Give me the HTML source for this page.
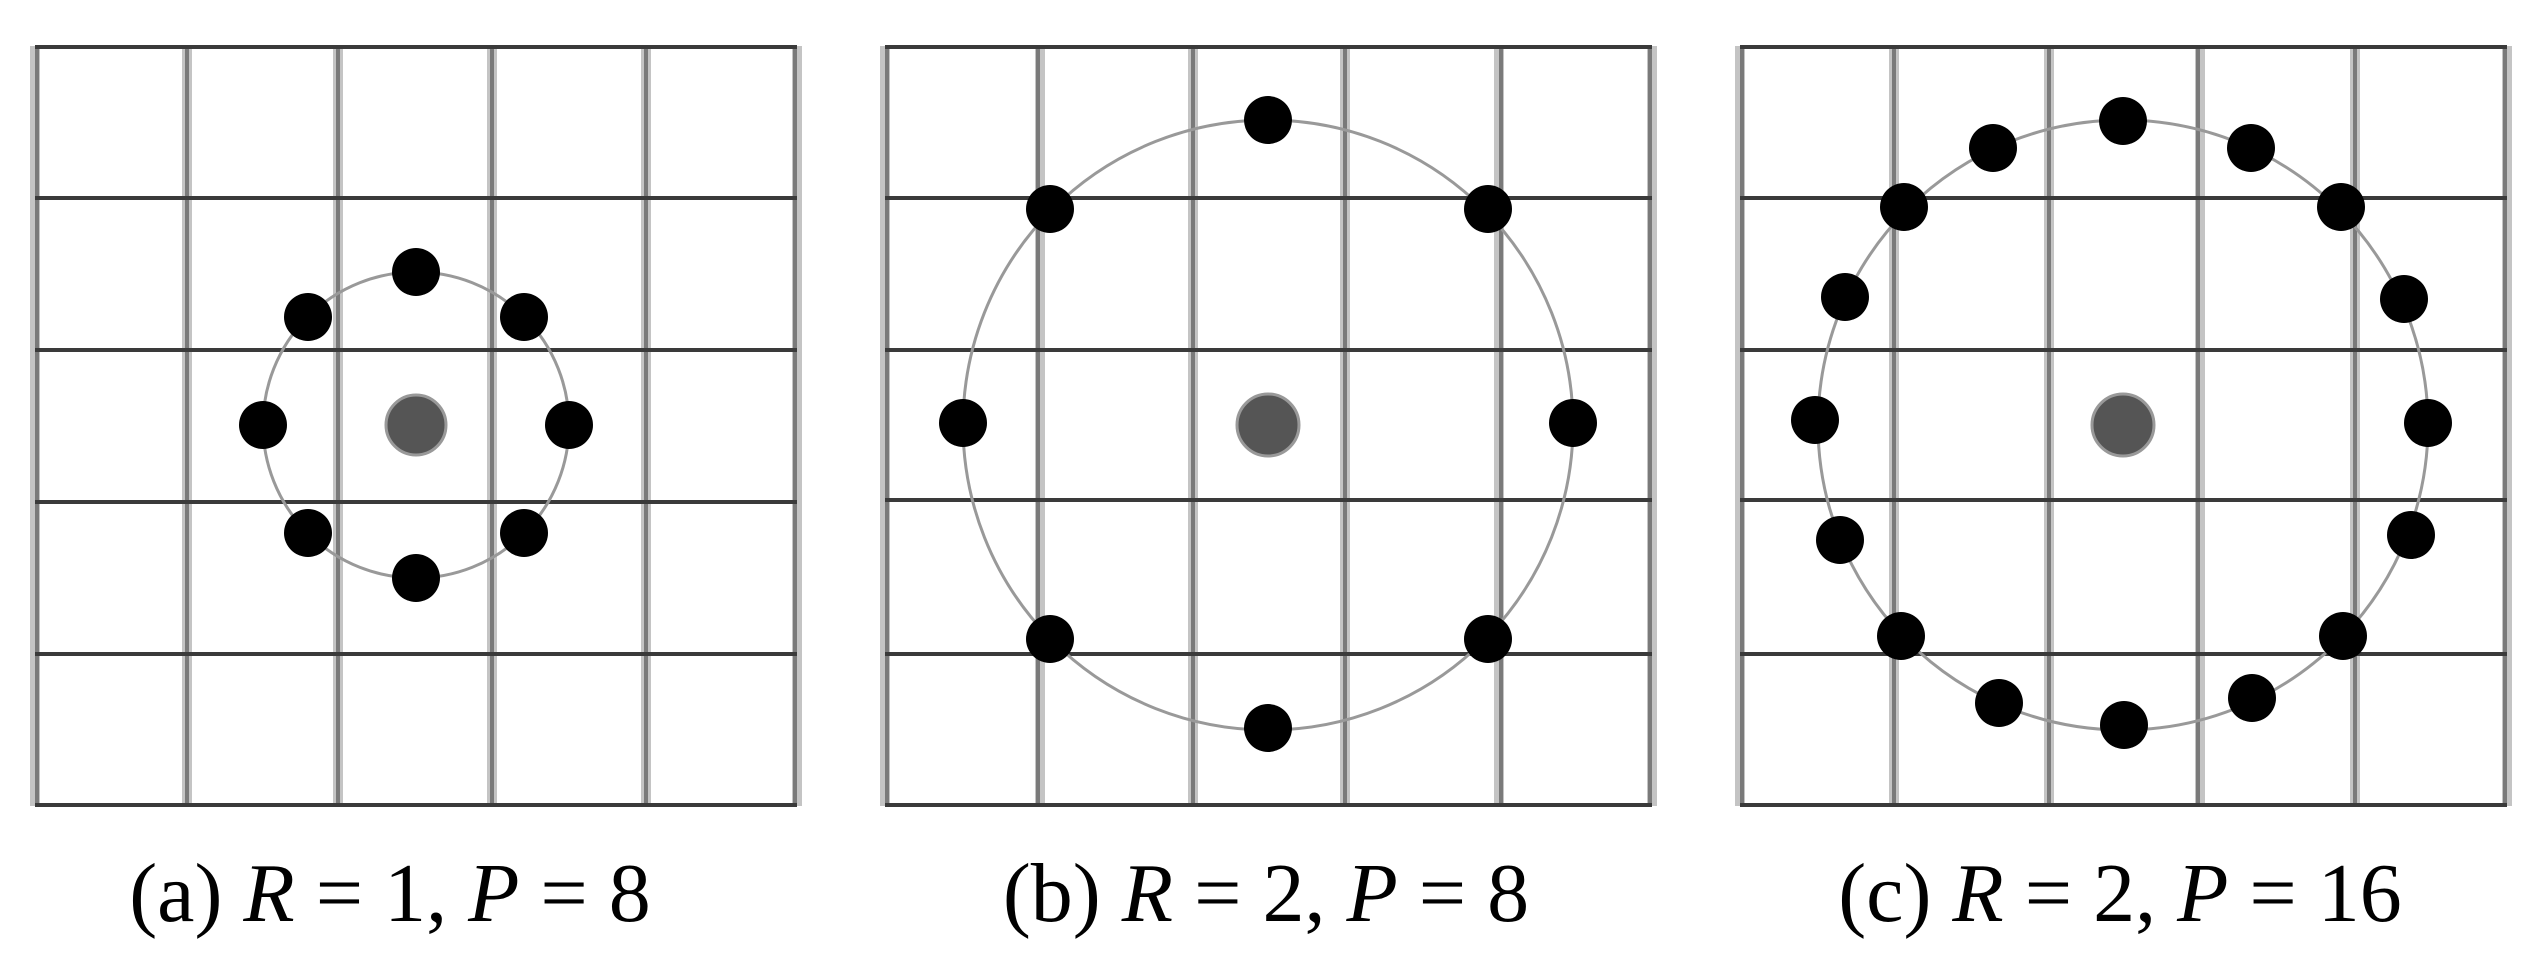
<!DOCTYPE html>
<html><head><style>
html,body{margin:0;padding:0;background:#fff;}
svg{display:block;}
text{font-family:"Liberation Serif",serif;font-size:84px;fill:#000;}
</style></head><body>
<svg width="2525" height="975" viewBox="0 0 2525 975" xmlns="http://www.w3.org/2000/svg">
<!-- Panel A -->
<g>
<g stroke="#c4c4c4" stroke-width="10">
<line x1="35" y1="46" x2="35" y2="806"/><line x1="187" y1="46" x2="187" y2="806"/><line x1="338" y1="46" x2="338" y2="806"/><line x1="492" y1="46" x2="492" y2="806"/><line x1="646" y1="46" x2="646" y2="806"/><line x1="797" y1="46" x2="797" y2="806"/>
</g>
<g stroke="#7a7a7a" stroke-width="4">
<line x1="37" y1="46" x2="37" y2="806"/><line x1="187" y1="46" x2="187" y2="806"/><line x1="338" y1="46" x2="338" y2="806"/><line x1="492" y1="46" x2="492" y2="806"/><line x1="646" y1="46" x2="646" y2="806"/><line x1="795" y1="46" x2="795" y2="806"/>
</g>
<g stroke="#3a3a3a" stroke-width="4">
<line x1="35" y1="47" x2="797" y2="47"/><line x1="35" y1="198" x2="797" y2="198"/><line x1="35" y1="350" x2="797" y2="350"/><line x1="35" y1="502" x2="797" y2="502"/><line x1="35" y1="654" x2="797" y2="654"/><line x1="35" y1="805" x2="797" y2="805"/>
</g>
<circle cx="416" cy="425" r="153" fill="none" stroke="#999" stroke-width="3"/>
<circle cx="416" cy="425" r="30" fill="#555" stroke="#999" stroke-width="3"/>
<g fill="#000">
<circle cx="569" cy="425" r="24"/><circle cx="524" cy="317" r="24"/><circle cx="416" cy="272" r="24"/><circle cx="308" cy="317" r="24"/><circle cx="263" cy="425" r="24"/><circle cx="308" cy="533" r="24"/><circle cx="416" cy="578" r="24"/><circle cx="524" cy="533" r="24"/>
</g>
<text x="390" y="921" text-anchor="middle">(a) <tspan font-style="italic">R</tspan> = 1, <tspan font-style="italic">P</tspan> = 8</text>
</g>
<!-- Panel B -->
<g>
<g stroke="#c4c4c4" stroke-width="10">
<line x1="885" y1="46" x2="885" y2="806"/><line x1="1040" y1="46" x2="1040" y2="806"/><line x1="1193" y1="46" x2="1193" y2="806"/><line x1="1345" y1="46" x2="1345" y2="806"/><line x1="1499" y1="46" x2="1499" y2="806"/><line x1="1652" y1="46" x2="1652" y2="806"/>
</g>
<g stroke="#7a7a7a" stroke-width="4">
<line x1="887" y1="46" x2="887" y2="806"/><line x1="1038" y1="46" x2="1038" y2="806"/><line x1="1193" y1="46" x2="1193" y2="806"/><line x1="1345" y1="46" x2="1345" y2="806"/><line x1="1501" y1="46" x2="1501" y2="806"/><line x1="1650" y1="46" x2="1650" y2="806"/>
</g>
<g stroke="#3a3a3a" stroke-width="4">
<line x1="885" y1="47" x2="1652" y2="47"/><line x1="885" y1="198" x2="1652" y2="198"/><line x1="885" y1="350" x2="1652" y2="350"/><line x1="885" y1="500" x2="1652" y2="500"/><line x1="885" y1="654" x2="1652" y2="654"/><line x1="885" y1="805" x2="1652" y2="805"/>
</g>
<circle cx="1268" cy="425" r="305" fill="none" stroke="#999" stroke-width="3"/>
<circle cx="1268" cy="425" r="31" fill="#555" stroke="#999" stroke-width="3"/>
<g fill="#000">
<circle cx="1573" cy="423" r="24"/><circle cx="1488" cy="209" r="24"/><circle cx="1268" cy="120" r="24"/><circle cx="1050" cy="209" r="24"/><circle cx="963" cy="423" r="24"/><circle cx="1050" cy="639" r="24"/><circle cx="1268" cy="728" r="24"/><circle cx="1488" cy="639" r="24"/>
</g>
<text x="1266" y="921" text-anchor="middle">(b) <tspan font-style="italic">R</tspan> = 2, <tspan font-style="italic">P</tspan> = 8</text>
</g>
<!-- Panel C -->
<g>
<g stroke="#c4c4c4" stroke-width="10">
<line x1="1740" y1="46" x2="1740" y2="806"/><line x1="1894" y1="46" x2="1894" y2="806"/><line x1="2049" y1="46" x2="2049" y2="806"/><line x1="2200" y1="46" x2="2200" y2="806"/><line x1="2355" y1="46" x2="2355" y2="806"/><line x1="2507" y1="46" x2="2507" y2="806"/>
</g>
<g stroke="#7a7a7a" stroke-width="4">
<line x1="1742" y1="46" x2="1742" y2="806"/><line x1="1894" y1="46" x2="1894" y2="806"/><line x1="2049" y1="46" x2="2049" y2="806"/><line x1="2198" y1="46" x2="2198" y2="806"/><line x1="2355" y1="46" x2="2355" y2="806"/><line x1="2505" y1="46" x2="2505" y2="806"/>
</g>
<g stroke="#3a3a3a" stroke-width="4">
<line x1="1740" y1="47" x2="2507" y2="47"/><line x1="1740" y1="198" x2="2507" y2="198"/><line x1="1740" y1="350" x2="2507" y2="350"/><line x1="1740" y1="500" x2="2507" y2="500"/><line x1="1740" y1="654" x2="2507" y2="654"/><line x1="1740" y1="805" x2="2507" y2="805"/>
</g>
<circle cx="2123" cy="425" r="305" fill="none" stroke="#999" stroke-width="3"/>
<circle cx="2123" cy="425" r="31" fill="#555" stroke="#999" stroke-width="3"/>
<g fill="#000">
<circle cx="2428" cy="423" r="24"/><circle cx="2404" cy="299" r="24"/><circle cx="2341" cy="207" r="24"/><circle cx="2251" cy="148" r="24"/><circle cx="2123" cy="121" r="24"/><circle cx="1993" cy="148" r="24"/><circle cx="1904" cy="207" r="24"/><circle cx="1845" cy="297" r="24"/><circle cx="1815" cy="420" r="24"/><circle cx="1840" cy="540" r="24"/><circle cx="1901" cy="636" r="24"/><circle cx="1999" cy="703" r="24"/><circle cx="2124" cy="725" r="24"/><circle cx="2252" cy="698" r="24"/><circle cx="2343" cy="636" r="24"/><circle cx="2411" cy="535" r="24"/>
</g>
<text x="2120" y="921" text-anchor="middle">(c) <tspan font-style="italic">R</tspan> = 2, <tspan font-style="italic">P</tspan> = 16</text>
</g>
</svg>
</body></html>
